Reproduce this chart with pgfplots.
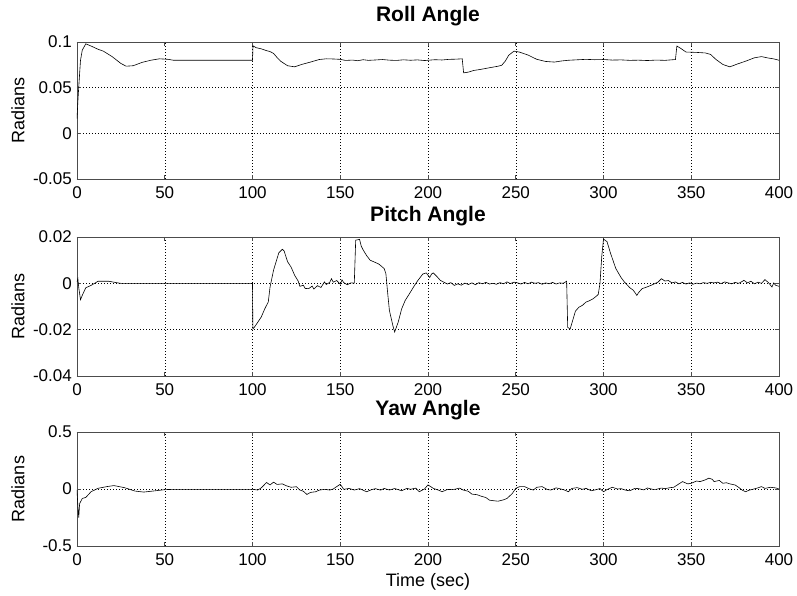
\documentclass[border=0pt]{standalone}
\usepackage{pgfplots}
\pgfplotsset{compat=1.18}
\usepackage{fontspec}
\setmainfont{Liberation Sans}
\pgfplotstableread{
t v
0 0.016
0.5 0.035
1 0.051
2 0.08
3 0.091
5 0.098
8 0.0956
12 0.092
15 0.090
20 0.084
25 0.0765
28 0.0735
32 0.074
37 0.0776
42 0.080
47 0.0816
52 0.081
55 0.080
100 0.080
100.3 0.0958
102 0.0938
105 0.0925
108 0.0905
110 0.0895
112 0.0875
114 0.083
116 0.079
120 0.074
124 0.0728
128 0.0754
133 0.078
138 0.0808
142 0.0816
146 0.0814
150 0.081
153 0.0798
157 0.0802
160 0.0795
163 0.0806
166 0.0799
170 0.0803
174 0.0808
178 0.0801
182 0.0798
186 0.0805
190 0.0800
194 0.0804
198 0.0797
200 0.0800
204 0.0806
208 0.0803
212 0.0810
216 0.0812
219.5 0.0816
220.3 0.0662
223 0.0670
226 0.0688
230 0.0700
235 0.0718
240 0.0735
242 0.0745
244 0.0790
246 0.0855
249 0.0900
252 0.0890
257 0.0857
262 0.0810
267 0.0787
272 0.0780
276 0.0792
280 0.0800
285 0.0805
290 0.0810
295 0.0806
300 0.0808
305 0.0802
310 0.0804
315 0.0799
320 0.0801
325 0.0797
330 0.0802
335 0.0799
341 0.0808
341.8 0.0956
344 0.0930
347 0.0890
350 0.0888
353 0.0886
358 0.0880
361 0.0864
364 0.0810
368 0.0754
372 0.0728
376 0.0757
381 0.0790
386 0.0827
390 0.0840
394 0.0824
397 0.0815
400 0.0800
}\rolldata
\pgfplotstableread{
t v
0 0.0006
0.5 0.002
1 -0.0019
2 -0.0071
3 -0.0052
5 -0.0019
8 -0.0009
12 0.0009
18 0.0009
24 0.0001
25 0
100 0
100.2 -0.0197
101 -0.019
103 -0.0168
105 -0.0145
107 -0.0110
109 -0.0080
110 -0.0016
112 0.0057
115 0.0132
117 0.0147
118 0.0140
120 0.0093
122 0.0070
124 0.0035
126 0.0010
127 -0.0013
129 -0.0008
130 -0.0022
132 -0.0023
134 -0.0012
135 -0.0025
137 -0.0010
139 -0.0018
141 0.0006
142 -0.0005
144 0.0004
145 0.0020
146 0.0005
148 0.0012
150 -0.0004
151 0.0015
152 0.0003
154 -0.0006
156 0.0002
158 0.0001
158.8 0.0186
161 0.0190
162 0.0160
163 0.0145
165 0.0120
167 0.0100
170 0.0090
172 0.0083
175 0.0064
176 0.0042
177 -0.004
178 -0.0117
180 -0.0183
181 -0.0210
183 -0.0168
185 -0.0110
187 -0.0074
189 -0.0050
192 -0.0013
194 0.0010
196 0.0030
197 0.0040
199 0.0045
200 0.0035
201 0.0025
202 0.0040
203 0.0045
205 0.0030
207 0.0013
209 0.0005
211 -0.0003
213 0.0003
215 -0.0009
217 -0.0002
219 -0.0008
221 0.0001
223 -0.0005
225 0.0002
227 -0.0006
229 0.0003
231 -0.0002
233 0.0004
235 -0.0003
237 0.0000
239 -0.0004
241 0.0003
243 -0.0002
245 0.0006
247 -0.0001
249 0.0005
251 0.0002
253 -0.0003
255 0.0004
257 -0.0002
259 0.0005
261 0.0000
263 0.0003
265 -0.0004
267 0.0002
269 -0.0002
271 0.0004
273 -0.0003
275 0.0002
277 0.0000
279 0.0009
279.6 -0.0190
281 -0.0197
283 -0.0146
284 -0.0120
286 -0.0103
288 -0.0095
290 -0.0081
292 -0.0075
294 -0.0067
296 -0.0055
297 -0.0048
298 0.000
299 0.0116
300 0.0191
302 0.0180
304 0.0130
307 0.0064
310 0.0025
312 0.0005
315 -0.0019
317 -0.0030
319 -0.0052
320 -0.0040
322 -0.0023
325 -0.0015
327 -0.0009
329 -0.0002
331 0.0005
333 0.0020
335 0.0010
337 0.0012
339 0.0002
341 0.0006
343 -0.0002
345 0.0004
347 -0.0003
349 0.0002
351 -0.0004
353 0.0001
355 -0.0002
357 0.0003
359 0.0000
361 0.0004
363 0.0002
365 0.0005
367 -0.0001
369 0.0006
371 0.0002
373 -0.0002
375 0.0004
377 0.0000
379 0.0008
380 0.0013
382 0.0002
384 0.0009
386 -0.0002
388 0.0005
390 0.0000
392 0.0016
394 0.0003
396 -0.0016
397 0.0002
398 -0.0008
400 -0.0013
}\pitchdata
\pgfplotstableread{
t v
0 -0.009
0.5 -0.15
1 -0.25
1.5 -0.128
3 -0.083
5 -0.074
8 -0.024
12 0.006
17 0.021
21 0.030
27 0.012
33 -0.018
38 -0.027
45 -0.015
50 -0.006
55 -0.003
100 -0.003
103 -0.009
105 0.010
108 0.057
110 0.036
112 0.060
114 0.040
117 0.045
119 0.030
122 0.015
125 0.020
127 -0.009
129 -0.020
131 -0.048
133 -0.030
136 -0.024
138 -0.010
141 -0.003
144 -0.009
146 0.000
148 0.021
150 0.042
152 -0.003
155 0.005
158 -0.009
161 0.003
165 -0.024
168 -0.005
170 0.003
173 -0.010
175 0.005
178 -0.009
181 0.004
185 -0.015
188 0.006
190 -0.003
193 0.008
195 -0.024
198 0.000
200 0.036
203 0.006
206 -0.010
208 -0.024
211 -0.005
215 -0.003
218 0.008
220 -0.009
223 -0.020
225 -0.045
228 -0.050
230 -0.062
233 -0.075
235 -0.098
238 -0.104
240 -0.107
243 -0.095
245 -0.083
248 -0.040
250 0.006
252 0.020
255 0.021
258 0.000
260 -0.009
262 0.015
265 0.021
268 -0.005
270 -0.009
273 0.010
275 0.003
278 -0.010
280 -0.024
282 0.005
285 0.012
288 -0.003
290 0.006
293 -0.015
295 -0.009
298 0.004
300 -0.024
302 -0.005
305 0.015
308 0.000
310 0.003
313 -0.012
315 -0.015
318 0.006
320 0.003
323 -0.008
325 0.009
328 -0.003
330 -0.003
333 0.008
335 0.003
338 0.012
340 0.015
343 0.045
345 0.065
348 0.045
350 0.050
353 0.070
355 0.065
358 0.080
360 0.095
362 0.085
363 0.065
366 0.075
368 0.050
370 0.055
372 0.045
375 0.035
377 0.015
379 -0.010
381 -0.024
383 -0.010
385 -0.003
388 0.010
390 0.021
392 0.005
395 0.015
398 0.010
400 0.000
}\yawdata
\pgfplotsset{
  matlab/.style={
    scale only axis, width=702pt, anchor=south west,
    xmin=0, xmax=400,
    xtick={0,50,100,150,200,250,300,350,400},
    xticklabels={0,50,100,150,200,250,300,350,400},
    scaled y ticks=false,
    grid=major,
    major grid style={black, line width=0.5pt, dash pattern=on 1pt off 2pt},
    tick align=inside, major tick length=4pt,
    axis line style={black!70, line width=0.8pt},
    tick style={black!70, line width=0.6pt},
    every tick label/.append style={inner sep=0pt, font=\fontsize{17}{20}\selectfont},
    xticklabel style={yshift=-7pt},
    yticklabel style={xshift=-5pt},
    ylabel={Radians},
    ylabel style={font=\fontsize{18}{20}\selectfont, at={(axis description cs:-0.084,0.5)}, anchor=center, rotate=0},
    title style={font=\fontsize{21}{24}\selectfont\bfseries, at={(axis description cs:0.5,1)}, anchor=base},
  },
  trace/.style={black, line width=0.6pt, no marks}
}
\begin{document}
\begin{tikzpicture}[x=1pt,y=1pt]
\useasboundingbox (0,0) rectangle (797,596);
\begin{axis}[matlab, at={(77pt,417pt)}, height=137pt,
  ymin=-0.05, ymax=0.1, ytick={-0.05,0,0.05,0.1}, yticklabels={-0.05,0,0.05,0.1},
  title={Roll Angle}, title style={yshift=14pt}]
\addplot[trace] table[x=t,y=v] {\rolldata};
\end{axis}
\begin{axis}[matlab, at={(77pt,220pt)}, height=139pt,
  ymin=-0.04, ymax=0.02, ytick={-0.04,-0.02,0,0.02}, yticklabels={-0.04,-0.02,0,0.02},
  title={Pitch Angle}, title style={yshift=9pt}]
\addplot[trace] table[x=t,y=v] {\pitchdata};
\end{axis}
\begin{axis}[matlab, at={(77pt,50pt)}, height=114pt,
  ymin=-0.5, ymax=0.5, ytick={-0.5,0,0.5}, yticklabels={-0.5,0,0.5},
  title={Yaw Angle}, title style={yshift=10pt},
  xlabel={Time (sec)},
  xlabel style={font=\fontsize{18}{20}\selectfont, at={(axis description cs:0.5,0)}, anchor=base, yshift=-41pt}]
\addplot[trace] table[x=t,y=v] {\yawdata};
\end{axis}
\end{tikzpicture}
\end{document}
